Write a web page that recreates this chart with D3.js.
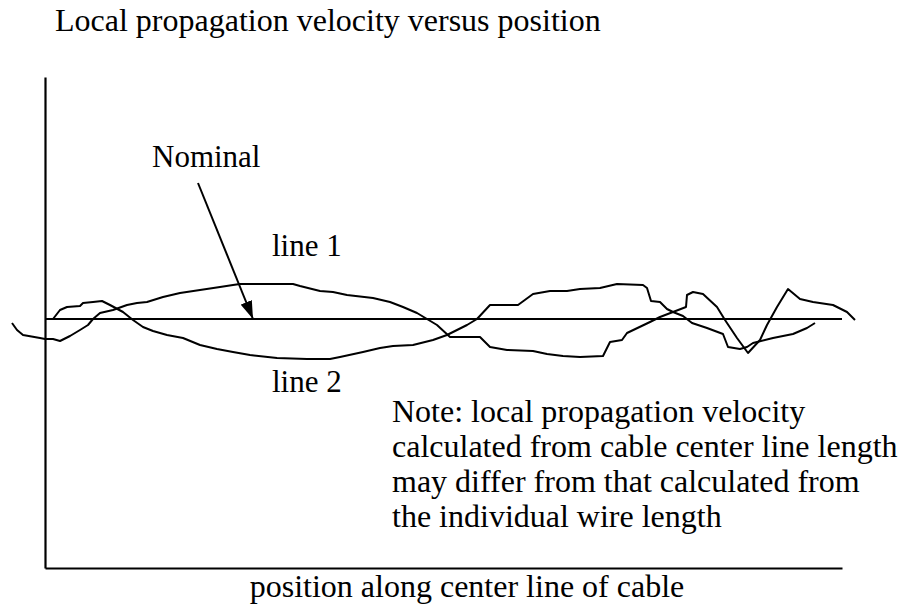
<!DOCTYPE html>
<html>
<head>
<meta charset="utf-8">
<script src="https://cdn.jsdelivr.net/npm/d3@7/dist/d3.min.js"></script>
<style>
  html, body { margin: 0; padding: 0; background: #fff; }
  svg { display: block; }
</style>
</head>
<body>
<svg id="chart" width="901" height="606"></svg>
<script>
// Position along the cable (arbitrary units) and velocity deviation from nominal
const line1Pos = [-33, -28, -22, -5, 0, 8, 15, 25, 35, 43, 48, 55, 68, 82, 92, 102, 118, 135, 155, 175, 188, 195,
  248, 255, 275, 288, 302, 328, 345, 358, 372, 382, 392, 405, 435, 445, 462, 488, 502, 518, 535, 558, 565, 577,
  582, 605, 615, 628, 641, 642, 648, 658, 672, 680, 692, 703, 715, 722, 732, 743, 755, 768, 788, 802, 810];
const line1Dev = [-0.04, -0.11, -0.16, -0.19, -0.20, -0.20, -0.22, -0.17, -0.11, -0.06, 0.00, 0.06, 0.09, 0.14,
  0.16, 0.17, 0.22, 0.26, 0.29, 0.32, 0.34, 0.35, 0.35, 0.33, 0.28, 0.27, 0.24, 0.21, 0.17, 0.12, 0.06, 0.00,
  -0.06, -0.18, -0.18, -0.28, -0.31, -0.32, -0.35, -0.37, -0.38, -0.37, -0.23, -0.21, -0.14, -0.03, 0.02, 0.07,
  0.12, 0.24, 0.27, 0.25, 0.12, -0.01, -0.19, -0.34, -0.21, -0.06, 0.12, 0.30, 0.20, 0.17, 0.14, 0.07, -0.01];

const line2Pos = [8, 15, 22, 35, 38, 48, 57, 65, 78, 88, 98, 108, 122, 138, 155, 172, 188, 205, 232, 262, 285,
  295, 318, 335, 348, 368, 388, 402, 422, 432, 445, 473, 488, 505, 522, 535, 555, 572, 598, 602, 606, 615, 622,
  628, 638, 647, 662, 678, 683, 695, 702, 708, 728, 748, 762, 770];
const line2Dev = [0.00, 0.09, 0.12, 0.13, 0.16, 0.17, 0.18, 0.14, 0.07, -0.01, -0.08, -0.12, -0.16, -0.19,
  -0.26, -0.30, -0.33, -0.36, -0.39, -0.40, -0.40, -0.38, -0.33, -0.29, -0.27, -0.26, -0.21, -0.16, -0.06, 0.00,
  0.14, 0.14, 0.25, 0.28, 0.28, 0.30, 0.31, 0.35, 0.34, 0.31, 0.18, 0.17, 0.10, 0.07, 0.03, -0.04, -0.09, -0.15,
  -0.28, -0.30, -0.28, -0.24, -0.19, -0.15, -0.09, -0.04];

const nominalPos = [0, 797];
const nominalDev = [0, 0];

const xDomain = [0, 797];
const yDomain = [-2.49, 2.42];

const titleText = "Local propagation velocity versus position";
const xLabelText = "position along center line of cable";
const noteLines = [
  "Note: local propagation velocity",
  "calculated from cable center line length",
  "may differ from that calculated from",
  "the individual wire length"
];

// Layout
const plot = { left: 45, right: 842, top: 77, bottom: 568 };
const serif = "'Liberation Serif', 'DejaVu Serif', serif";

const svg = d3.select("#chart");

const x = d3.scaleLinear().domain(xDomain).range([plot.left, plot.right]);
const y = d3.scaleLinear().domain(yDomain).range([plot.bottom, plot.top]);

const zip = (p, d) => p.map((v, i) => ({ pos: v, dev: d[i] }));

const line = d3.line().x(d => x(d.pos)).y(d => y(d.dev)).curve(d3.curveLinear);

// Bare axes: vertical and horizontal lines, no ticks
svg.append("g")
  .attr("transform", `translate(${plot.left},0)`)
  .call(d3.axisLeft(y).tickValues([]).tickSizeOuter(0))
  .call(g => g.select(".domain").attr("stroke", "#000").attr("stroke-width", 2.2));

svg.append("g")
  .attr("transform", `translate(0,${plot.bottom})`)
  .call(d3.axisBottom(x).tickValues([]).tickSizeOuter(0))
  .call(g => g.select(".domain").attr("stroke", "#000").attr("stroke-width", 2.2));

// Series
const series = [zip(nominalPos, nominalDev), zip(line1Pos, line1Dev), zip(line2Pos, line2Dev)];
svg.append("g").selectAll("path")
  .data(series)
  .join("path")
  .attr("d", line)
  .attr("fill", "none")
  .attr("stroke", "#000")
  .attr("stroke-width", 2)
  .attr("stroke-linejoin", "round");

// Arrow pointing at the nominal line
const arrowFrom = { pos: 153, dev: 1.36 };
const arrowTo = { pos: 208, dev: 0 };
svg.append("defs").append("marker")
  .attr("id", "head")
  .attr("viewBox", "0 0 18 12")
  .attr("refX", 18).attr("refY", 6)
  .attr("markerWidth", 18).attr("markerHeight", 12)
  .attr("markerUnits", "userSpaceOnUse")
  .attr("orient", "auto")
  .append("path").attr("d", "M0,0 L18,6 L0,12 Z").attr("fill", "#000");

svg.append("line")
  .attr("x1", x(arrowFrom.pos)).attr("y1", y(arrowFrom.dev))
  .attr("x2", x(arrowTo.pos)).attr("y2", y(arrowTo.dev))
  .attr("stroke", "#000").attr("stroke-width", 2)
  .attr("marker-end", "url(#head)");

// Text
const label = (tx, ty, size, str, anchor = "start") =>
  svg.append("text")
    .attr("x", tx).attr("y", ty)
    .attr("font-family", serif)
    .attr("font-size", size)
    .attr("fill", "#000")
    .attr("text-anchor", anchor)
    .text(str);

label(55, 31, 32, titleText);
label(152, 167, 31, "Nominal");
label(272, 256, 31, "line 1");
label(272, 392, 31, "line 2");
noteLines.forEach((s, i) => label(392, 422 + i * 35, 32, s));
label(467, 597, 32, xLabelText, "middle");
</script>
</body>
</html>
